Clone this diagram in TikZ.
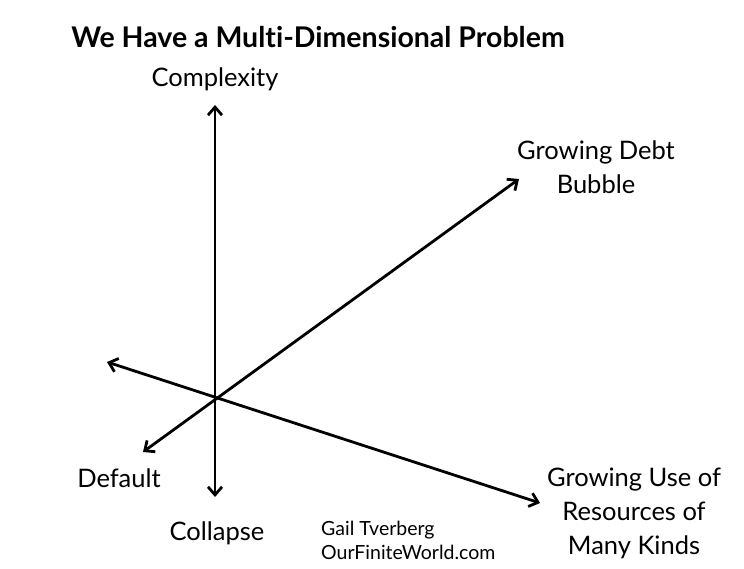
\documentclass[tikz,border=0pt]{standalone}
\usepackage{fontspec}
\setmainfont{Lato}[Ligatures={NoCommon,NoRare}]
\usetikzlibrary{arrows.meta}
\tikzset{
  axis/.style={<->,line width=2.8pt},
  lbl/.style={font=\fontsize{25.5}{34}\selectfont,align=center,inner sep=0pt},
  note/.style={font=\fontsize{19.5}{24}\selectfont,align=left,inner sep=0pt}
}
\begin{document}
\begin{tikzpicture}[x=1pt,y=-1pt,>={Straight Barb[length=8pt,width=14pt,line width=2.8pt]}]
\useasboundingbox[fill=white](0,0)rectangle(744,569);
% axes
\coordinate(o)at(218,397);
\coordinate(up)at(215,105);
\coordinate(dn)at(215,497);
\coordinate(ur)at(519,179);
\coordinate(dl)at(143,452);
\coordinate(lf)at(107,362);
\coordinate(dr)at(540,503);
\draw[axis](dn)--(up);
\draw[axis](dl)--(ur);
\draw[axis](lf)--(dr);
% labels
\node[font=\bfseries\fontsize{28.5}{32}\selectfont,inner sep=0pt](ttl)at(318,37){We Have a Multi-Dimensional Problem};
\node[lbl](cx)at(215,79){Complexity};
\node[lbl](debt)at(596,167){Growing Debt\\Bubble};
\node[lbl](dflt)at(119,478){Default};
\node[lbl](clps)at(217,533){Collapse};
\node[lbl](res)at(634,513){Growing Use of\\Resources of\\Many Kinds};
\node[note,anchor=west](gail)at(321,540){Gail Tverberg\\OurFiniteWorld.com};
\end{tikzpicture}
\end{document}
